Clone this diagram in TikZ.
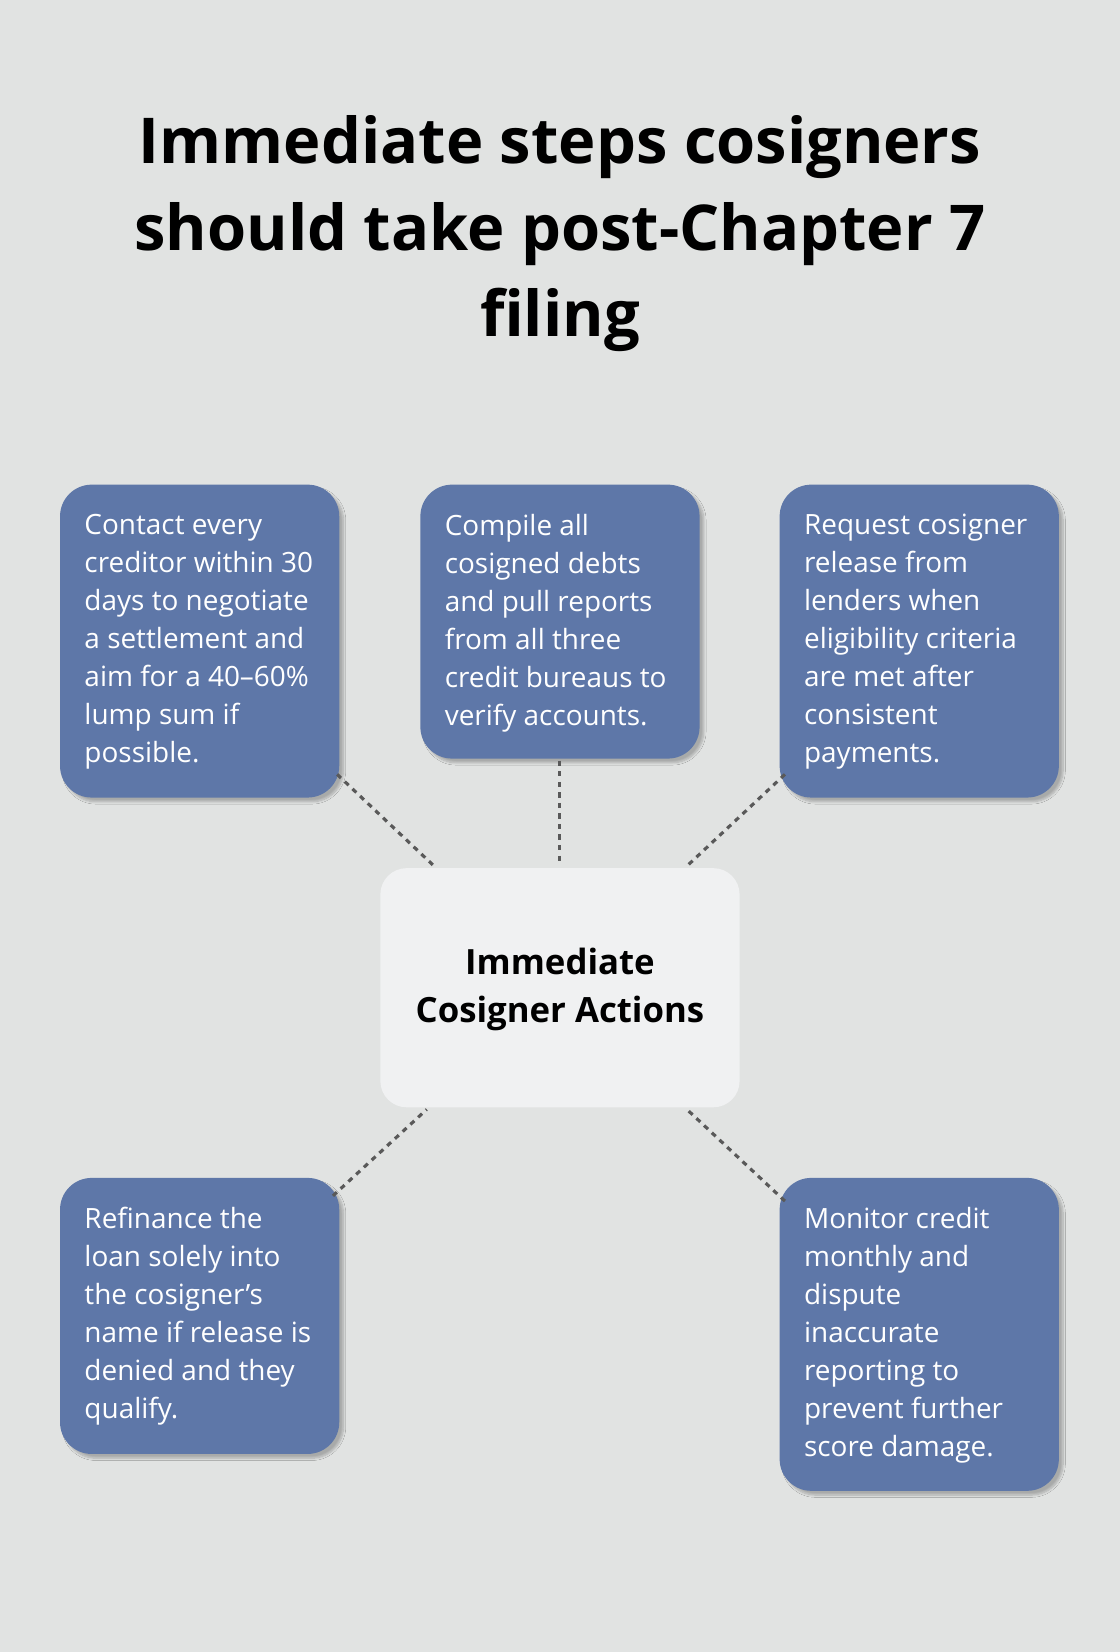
\documentclass[tikz,border=0pt]{standalone}
\usepackage{fontspec}
\setmainfont{Open Sans}
\usetikzlibrary{shadows.blur}
\definecolor{bg}{HTML}{E1E3E2}
\definecolor{boxc}{HTML}{5E77A8}
\definecolor{cen}{HTML}{F0F1F2}
\begin{document}
\begin{tikzpicture}[x=1pt,y=-1pt,
 box/.style={fill=boxc,rounded corners=30pt,blur shadow={shadow blur steps=8,shadow xshift=4pt,shadow yshift=-4pt,shadow opacity=25}},
 txt/.style={anchor=north west,align=left,text=white,font=\fontsize{26.5}{36}\selectfont,inner sep=0pt},
 conn/.style={draw=black!65,line width=3pt,dash pattern=on 5pt off 5pt}]
\fill[bg] (0,0) rectangle (1063,1568);
\useasboundingbox (0,0) rectangle (1063,1568);
\node[font=\fontsize{60}{82}\selectfont\bfseries,align=center] (title) at (531.5,222) {Immediate steps cosigners\\should take post-Chapter 7\\filing};
\path[box] (57,460) rectangle (322,757);
\path[box] (399,460) rectangle (664,720);
\path[box] (740,460) rectangle (1005,757);
\path[box] (57,1118) rectangle (322,1380);
\path[box] (740,1118) rectangle (1005,1415);
\path[fill=cen,rounded corners=25pt] (361,824) rectangle (702,1051);
\node[font=\fontsize{33}{46}\selectfont\bfseries,align=center] (c) at (531.5,939) {Immediate\\Cosigner Actions};
\node[txt] (t1) at (80,488) {Contact every\\creditor within 30\\days to negotiate\\a settlement and\\aim for a 40–60\%\\lump sum if\\possible.};
\node[txt] (t2) at (422,488) {Compile all\\cosigned debts\\and pull reports\\from all three\\credit bureaus to\\verify accounts.};
\node[txt] (t3) at (763,488) {Request cosigner\\release from\\lenders when\\eligibility criteria\\are met after\\consistent\\payments.};
\node[txt] (t4) at (80,1146) {Refinance the\\loan solely into\\the cosigner’s\\name if release is\\denied and they\\qualify.};
\node[txt] (t5) at (763,1146) {Monitor credit\\monthly and\\dispute\\inaccurate\\reporting to\\prevent further\\score damage.};
\coordinate (a1) at (320,735); \coordinate (b1) at (412,822);
\coordinate (a2) at (531,722); \coordinate (b2) at (531,818);
\coordinate (a3) at (745,735); \coordinate (b3) at (652,822);
\coordinate (a4) at (316,1135); \coordinate (b4) at (405,1053);
\coordinate (a5) at (745,1140); \coordinate (b5) at (652,1053);
\foreach \i in {1,...,5} \draw[conn] (a\i) -- (b\i);
\end{tikzpicture}
\end{document}
